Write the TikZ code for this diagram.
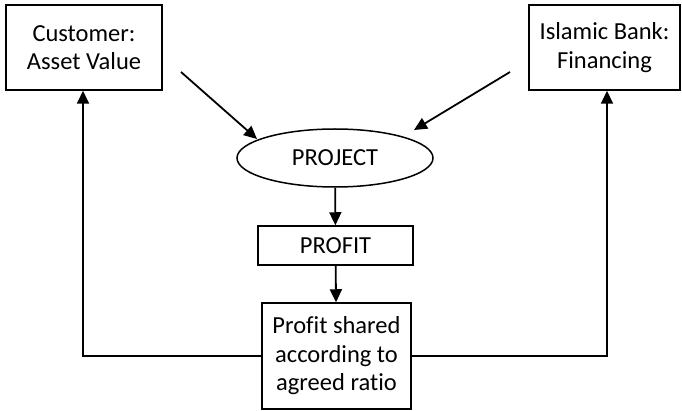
\documentclass[tikz,border=0pt]{standalone}
\usepackage{fontspec}
\setmainfont[Ligatures={NoCommon}]{Carlito}
\usetikzlibrary{arrows.meta,shapes.geometric}
\begin{document}
\begin{tikzpicture}[x=1pt,y=-1pt,
  every node/.style={font=\fontsize{24.5}{28.5}\selectfont, align=center, inner sep=0pt},
  boxnode/.style={draw, line width=1.5pt, rectangle},
  flow/.style={line width=1.8pt, -{Triangle[length=13pt,width=12pt]}}]
  \useasboundingbox (0,0) rectangle (682,411);

  \node[boxnode, minimum width=156pt, minimum height=85pt] (cust) at (84,47.5) {Customer:\\Asset Value};
  \node[boxnode, minimum width=151pt, minimum height=85pt] (bank) at (604.5,47.5) {Islamic Bank:\\Financing};
  \node[draw, line width=1.5pt, ellipse, minimum width=196pt, minimum height=58pt] (project) at (335,158) {PROJECT};
  \node[boxnode, minimum width=155pt, minimum height=39pt] (profit) at (335.5,245.5) {PROFIT};
  \node[boxnode, minimum width=149pt, minimum height=106pt] (shared) at (336.5,356) {Profit shared\\according to\\agreed ratio};

  % inputs feeding the project
  \coordinate (cin) at (181,72);
  \coordinate (cend) at (257,139);
  \coordinate (bin) at (510,72);
  \coordinate (bend) at (414,130);
  \draw[flow] (cin) -- (cend);
  \draw[flow] (bin) -- (bend);

  % main flow
  \draw[flow] (project) -- (profit);
  \draw[flow] (profit) -- (shared);

  % returns to both parties
  \coordinate (lc) at (83,356);
  \coordinate (rc) at (607,356);
  \draw[flow] (shared.west) -- (lc) -- (lc |- cust.south);
  \draw[flow] (shared.east) -- (rc) -- (rc |- bank.south);
\end{tikzpicture}
\end{document}
